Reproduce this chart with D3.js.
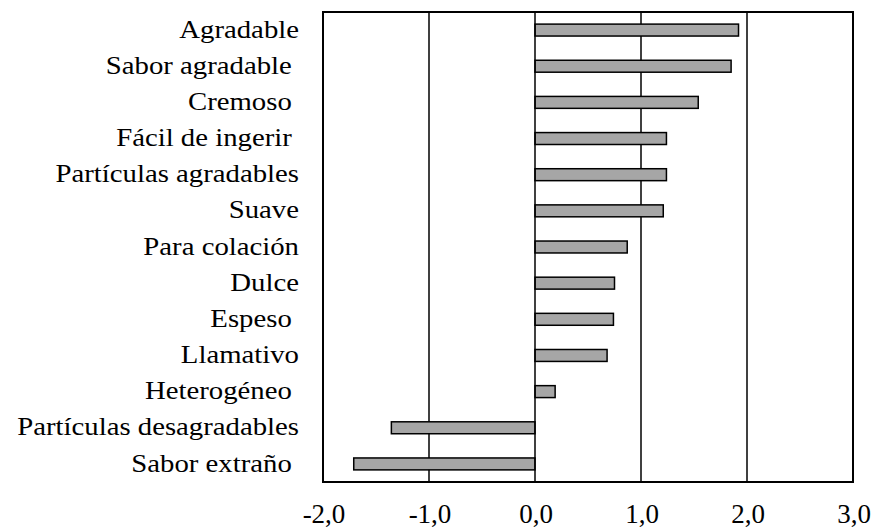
<!DOCTYPE html>
<html>
<head>
<meta charset="utf-8">
<script src="https://cdn.jsdelivr.net/npm/d3@7"></script>
<style>
  body { margin: 0; background: #fff; }
</style>
</head>
<body>
<div id="chart"></div>
<script>
const width = 876,
    height = 528

// atributos (orden de arriba hacia abajo)
const categories = ["Agradable", "Sabor agradable ", "Cremoso ", "Fácil de ingerir ",
    "Partículas agradables", "Suave", "Para colación", "Dulce", "Espeso ",
    "Llamativo", "Heterogéneo ", "Partículas desagradables", "Sabor extraño "]
const values = [1.92, 1.85, 1.54, 1.24, 1.24, 1.21, 0.87, 0.75, 0.74, 0.68, 0.19, -1.355, -1.71]
const ticks = [-2, -1, 0, 1, 2, 3]
const gridValues = [-1, 1, 2]

const plot = {left: 323, right: 853, top: 12, bottom: 482}
const serif = "'Liberation Serif', 'Times New Roman', Times, serif"

var svg = d3.select("#chart")
    .append("svg")
    .attr("width", width)
    .attr("height", height)

var x = d3.scaleLinear()
    .domain([-2, 3])
    .range([plot.left, plot.right])

var y = d3.scaleBand()
    .domain(categories)
    .range([plot.top, plot.bottom])
    .paddingInner(0.67)
    .paddingOuter(0.335)

// lineas de division
svg.append("g")
    .selectAll("line")
    .data(gridValues)
    .enter()
    .append("line")
    .attr("x1", d => x(d))
    .attr("x2", d => x(d))
    .attr("y1", plot.top)
    .attr("y2", plot.bottom)
    .attr("stroke", "#000")
    .attr("stroke-width", 1.5)

// barras
svg.append("g")
    .selectAll("rect")
    .data(values)
    .enter()
    .append("rect")
    .attr("x", d => x(Math.min(0, d)))
    .attr("y", (d, i) => y(categories[i]))
    .attr("width", d => Math.abs(x(d) - x(0)))
    .attr("height", y.bandwidth())
    .attr("fill", "#a6a6a6")
    .attr("stroke", "#000")
    .attr("stroke-width", 1.5)

// eje en cero
svg.append("line")
    .attr("x1", x(0))
    .attr("x2", x(0))
    .attr("y1", plot.top)
    .attr("y2", plot.bottom)
    .attr("stroke", "#000")
    .attr("stroke-width", 1.5)

// marco
svg.append("rect")
    .attr("x", plot.left)
    .attr("y", plot.top)
    .attr("width", plot.right - plot.left)
    .attr("height", plot.bottom - plot.top)
    .attr("fill", "none")
    .attr("stroke", "#000")
    .attr("stroke-width", 2)

// etiquetas de categorias
svg.append("g")
    .selectAll("text")
    .data(categories)
    .enter()
    .append("text")
    .attr("transform", d => `translate(299,${y(d) + y.bandwidth() / 2 + 7.6}) scale(1.15,1)`)
    .attr("text-anchor", "end")
    .attr("font-family", serif)
    .attr("font-size", 25)
    .style("white-space", "pre")
    .text(d => d)

// etiquetas del eje x
svg.append("g")
    .selectAll("text")
    .data(ticks)
    .enter()
    .append("text")
    .attr("x", d => x(d) + 1)
    .attr("y", 523)
    .attr("text-anchor", "middle")
    .attr("font-family", serif)
    .attr("font-size", 27)
    .text(d => d3.format(".1f")(d).replace(".", ",").replace("−", "-"))
</script>
</body>
</html>
